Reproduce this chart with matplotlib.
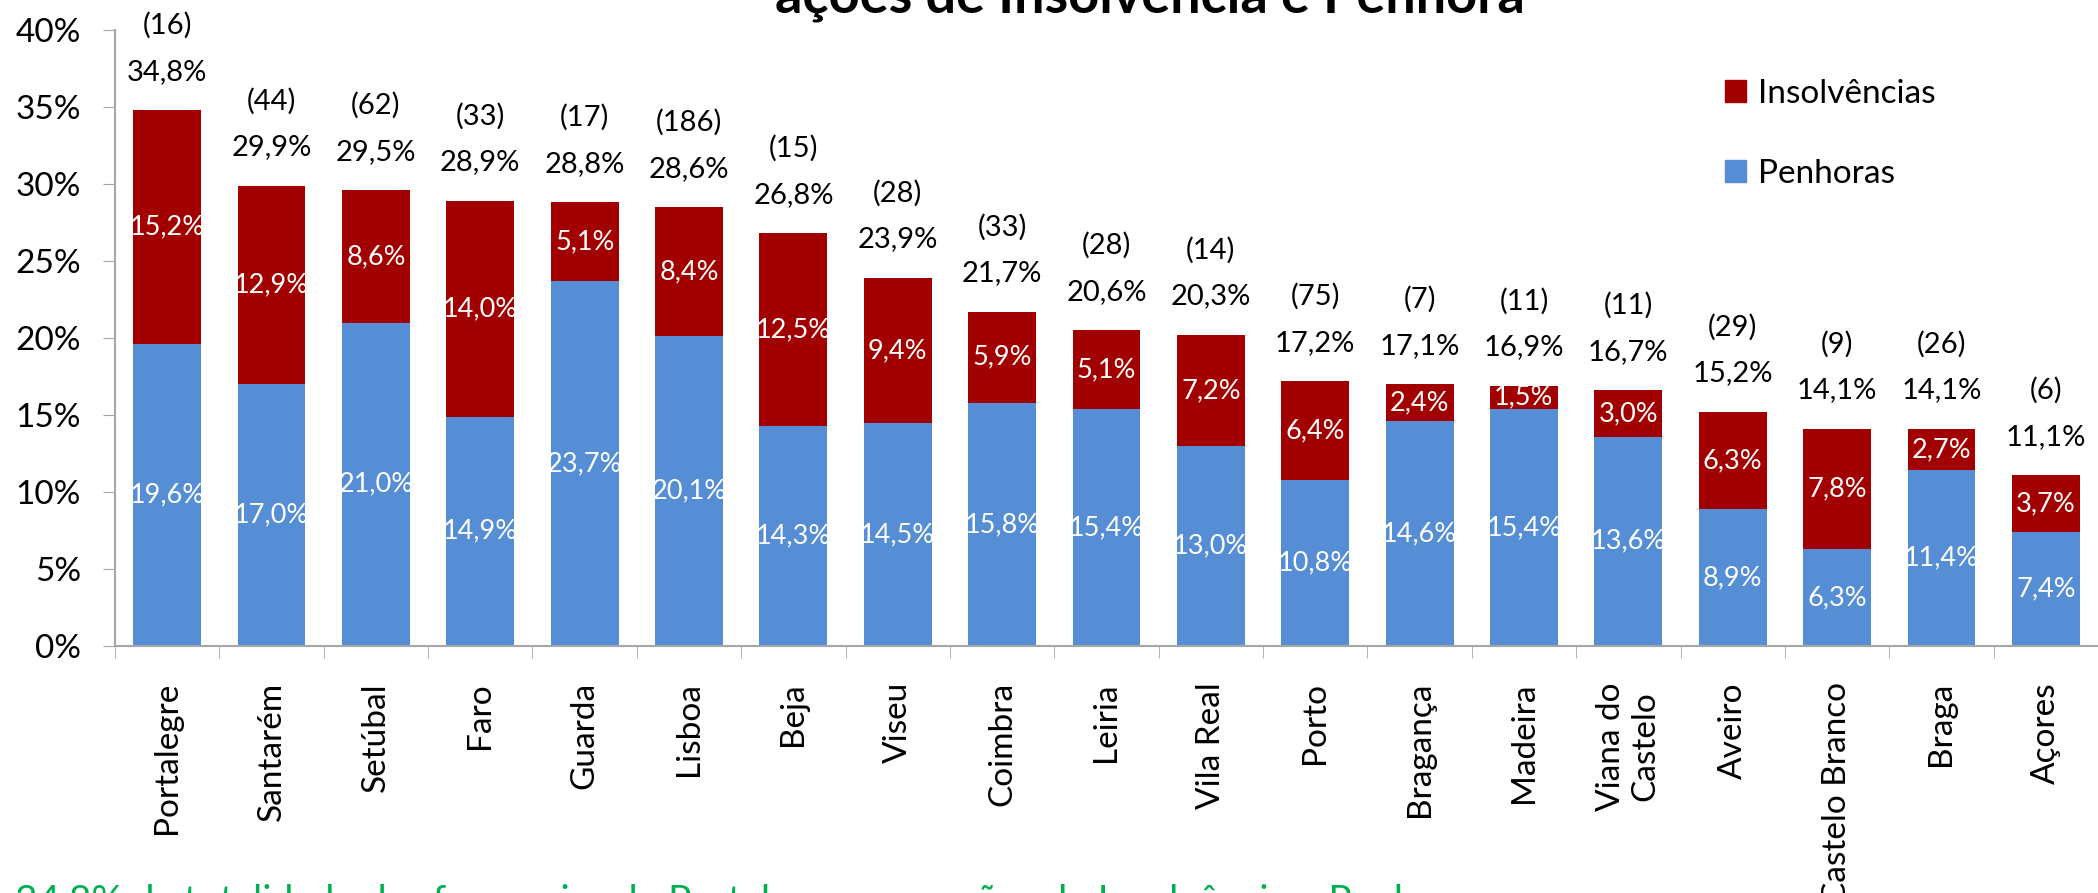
import matplotlib.pyplot as plt
import numpy as np
from matplotlib.patches import Patch
from matplotlib.ticker import FixedLocator, FuncFormatter

plt.rcParams['font.family'] = ['Lato', 'DejaVu Sans']

categories = ["Portalegre", "Santarém", "Setúbal", "Faro", "Guarda", "Lisboa", "Beja",
              "Viseu", "Coimbra", "Leiria", "Vila Real", "Porto", "Bragança", "Madeira",
              "Viana do\nCastelo", "Aveiro", "Castelo Branco", "Braga", "Açores"]
penhoras = [19.6, 17.0, 21.0, 14.9, 23.7, 20.1, 14.3, 14.5, 15.8, 15.4, 13.0, 10.8,
            14.6, 15.4, 13.6, 8.9, 6.3, 11.4, 7.4]
insolvencias = [15.2, 12.9, 8.6, 14.0, 5.1, 8.4, 12.5, 9.4, 5.9, 5.1, 7.2, 6.4,
                2.4, 1.5, 3.0, 6.3, 7.8, 2.7, 3.7]
totais = [34.8, 29.9, 29.5, 28.9, 28.8, 28.6, 26.8, 23.9, 21.7, 20.6, 20.3, 17.2,
          17.1, 16.9, 16.7, 15.2, 14.1, 14.1, 11.1]
contagens = [16, 44, 62, 33, 17, 186, 15, 28, 33, 28, 14, 75, 7, 11, 11, 29, 9, 26, 6]

RED = "#A20000"
BLUE = "#558ED5"
GRAY = "#A6A6A6"


def pct(v):
	return f"{v:.1f}".replace(".", ",") + "%"


fig = plt.figure(figsize=(20.98, 8.93), dpi=100)
ax = fig.add_axes([115 / 2098, 1 - 646 / 893, 1 - 115 / 2098, (646 - 30) / 893])

x = np.arange(len(categories))
ax.bar(x, penhoras, width=0.65, color=BLUE)
ax.bar(x, insolvencias, width=0.65, bottom=penhoras, color=RED)

for i in x:
	p = penhoras[i]
	s = insolvencias[i]
	ax.text(i, p / 2, pct(p), ha="center", va="center", color="white", fontsize=19.5)
	ax.text(i, p + s / 2, pct(s), ha="center", va="center", color="white", fontsize=19.5)
	top = p + s
	ax.text(i, top + 2.5, pct(totais[i]), ha="center", va="center", fontsize=21)
	ax.text(i, top + 5.5, f"({contagens[i]})", ha="center", va="center", fontsize=21)

ax.set_xlim(-0.5, len(categories) - 0.5)
ax.set_ylim(0, 40)
ax.set_yticks(np.arange(0, 41, 5))
ax.yaxis.set_major_formatter(FuncFormatter(lambda v, _: f"{v:.0f}%"))
ax.tick_params(axis="y", length=8.6, color=GRAY, labelsize=24, pad=16)

ax.set_xticks(x)
ax.set_xticklabels(categories, rotation=90, fontsize=24, va="top", ha="center",
                   multialignment="center")
ax.xaxis.set_minor_locator(FixedLocator(np.arange(-0.5, len(categories), 1)))
ax.tick_params(axis="x", which="major", length=0, pad=26)
ax.tick_params(axis="x", which="minor", length=8.6, color=GRAY)

for side in ["top", "right"]:
	ax.spines[side].set_visible(False)
for side in ["left", "bottom"]:
	ax.spines[side].set_color(GRAY)
	ax.spines[side].set_linewidth(1.5)

handles = [Patch(color=RED, label="Insolvências"), Patch(color=BLUE, label="Penhoras")]
fig.legend(handles=handles, loc="upper left", bbox_to_anchor=(1708 / 2098, 1 - 62 / 893),
           frameon=False, fontsize=24, handlelength=0.64, handleheight=0.64,
           handletextpad=0.35, labelspacing=1.5, borderpad=0)

fig.text(1150 / 2098, 1 - 12 / 893, "ações de Insolvência e Penhora", ha="center",
         va="baseline", fontsize=39, fontweight="bold")
fig.text(15 / 2098, 1 - 913 / 893,
         "34,8% da totalidade das freguesias de Portalegre com ações de Insolvência e Penhora",
         ha="left", va="baseline", fontsize=28, color="#00B050")

fig.savefig("out.png", dpi=100)
